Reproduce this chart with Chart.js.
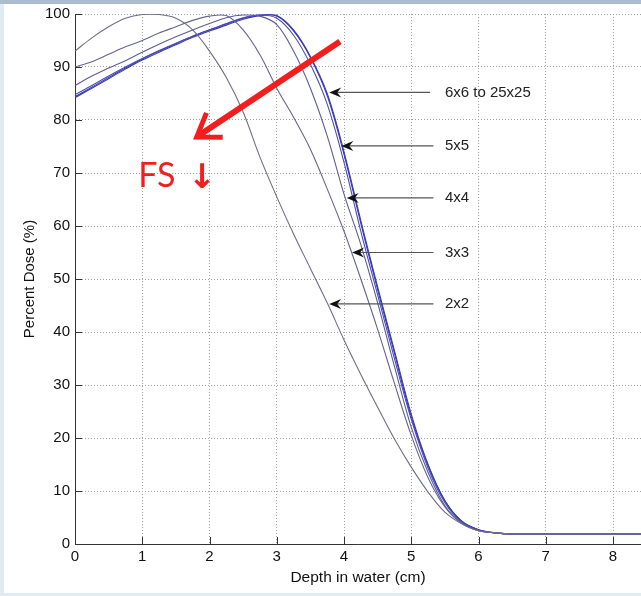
<!DOCTYPE html>
<html>
<head>
<meta charset="utf-8">
<script src="https://cdn.jsdelivr.net/npm/chart.js@4.4.0/dist/chart.umd.min.js"></script>
<style>
  html, body { margin: 0; padding: 0; background: #fff; }
  #wrap { position: relative; width: 641px; height: 596px; overflow: hidden; }
  #chart { position: absolute; left: 0; top: 0; }
  .edge { position: absolute; }
</style>
</head>
<body>
<div id="wrap">
  <canvas id="chart" width="641" height="596"></canvas>
  <div class="edge" style="left:0;top:0;width:641px;height:4px;background:#a9bdd1"></div>
  <div class="edge" style="left:0;top:4px;width:4px;height:592px;background:#dfeaf2"></div>
  <div class="edge" style="left:0;top:593px;width:641px;height:3px;background:#dfeaf2"></div>
</div>
<script>
// depth in water (cm)
const depth = [0, 0.25, 0.5, 0.75, 1, 1.25, 1.5, 1.75, 2, 2.25, 2.5, 2.75, 3, 3.25, 3.5, 3.75,
  4, 4.25, 4.5, 4.75, 5, 5.25, 5.5, 5.75, 6, 6.25, 6.5, 7, 7.5, 8, 8.5];

// percent dose per field size
const dose2x2 = [93, 95.5, 97.6, 99.2, 99.9, 99.9, 99.2, 97, 93, 88, 81.5, 73, 65.5, 58.5, 52, 45.5,
  38.5, 32, 25.8, 19.8, 14.5, 9.8, 6, 3.8, 2.5, 2.1, 1.9, 1.9, 1.9, 1.9, 1.9];
const dose3x3 = [90, 91, 92.4, 93.8, 95, 96.4, 97.6, 98.8, 99.6, 99.7, 97, 92.3, 86, 80.5, 74.5, 67,
  59, 50, 40.5, 30.3, 20.5, 12.5, 7, 3.9, 2.5, 2.1, 1.9, 1.9, 1.9, 1.9, 1.9];
const dose4x4 = [86.5, 88.3, 89.8, 91.2, 92.8, 94.3, 95.7, 97, 98.2, 99.3, 99.8, 99.6, 98, 93, 86, 77,
  66, 56.5, 45.5, 33.5, 22, 13.5, 7.2, 3.9, 2.5, 2.1, 1.9, 1.9, 1.9, 1.9, 1.9];
const dose5x5 = [84.8, 86.5, 88.3, 90, 91.6, 93.1, 94.5, 95.8, 97, 98.2, 99.3, 99.8, 99.2, 96, 90.5, 83,
  72, 59, 47, 35, 23.5, 14.3, 7.8, 4.1, 2.6, 2.1, 1.9, 1.9, 1.9, 1.9, 1.9];
const dose6x6 = [84.2, 86, 87.8, 89.6, 91.3, 92.8, 94.2, 95.6, 96.8, 97.9, 99, 99.7, 99.7, 97, 92, 85,
  74, 61, 48.5, 36.5, 24.5, 15, 8.2, 4.3, 2.7, 2.1, 1.9, 1.9, 1.9, 1.9, 1.9];
const dose25x25 = [84.4, 86.2, 88, 89.8, 91.5, 93, 94.4, 95.8, 97, 98.1, 99.2, 99.8, 99.6, 96.8, 91.8, 84.6,
  73.5, 60.5, 48, 36, 24, 14.8, 8.1, 4.3, 2.7, 2.1, 1.9, 1.9, 1.9, 1.9, 1.9];

const seriesNames = ["2x2", "3x3", "4x4", "5x5", "6x6", "25x25"];
const seriesValues = [dose2x2, dose3x3, dose4x4, dose5x5, dose6x6, dose25x25];
const seriesColors = ["#6e6e86", "#66668e", "#5c5c9c", "#4e4eac", "#3a3ab8", "#3434bc"];

// callout labels (data units: depth of arrow tip, depth of tail, dose level)
const calloutTexts = ["6x6 to 25x25", "5x5", "4x4", "3x3", "2x2"];
const calloutDose = [85.2, 75.1, 65.3, 55, 45.3];
const calloutTip = [3.78, 3.96, 4.04, 4.12, 3.78];
const calloutTail = [5.28, 5.33, 5.33, 5.33, 5.33];
const calloutTextX = 5.5;

// red "field size" arrow and note
const fsArrowFrom = [3.94, 94.8];
const fsArrowTo = [1.81, 76.8];
const fsText = "FS";
const fsTextPos = [0.94, 67.4];
const fsDownArrow = "↓";
const fsDownPos = [1.68, 67.2];

const datasets = seriesNames.map((name, i) => ({
  label: name,
  data: depth.map((d, j) => ({ x: d, y: seriesValues[i][j] })),
  borderColor: seriesColors[i],
  borderWidth: 1.1,
  pointRadius: 0,
  tension: 0.35,
  fill: false,
}));

function drawArrowHead(ctx, x, y) {
  ctx.beginPath();
  ctx.moveTo(x, y);
  ctx.lineTo(x + 12, y - 5);
  ctx.lineTo(x + 8, y);
  ctx.lineTo(x + 12, y + 5);
  ctx.closePath();
  ctx.fill();
}

const annotations = {
  id: "annotations",
  afterDatasetsDraw(chart) {
    const ctx = chart.ctx;
    const xs = chart.scales.x;
    const ys = chart.scales.y;
    const area = chart.chartArea;

    // inward tick marks, matlab style
    ctx.save();
    ctx.strokeStyle = "#333";
    ctx.lineWidth = 1;
    ctx.beginPath();
    xs.ticks.forEach((t) => {
      const px = Math.round(xs.getPixelForValue(t.value)) + 0.5;
      ctx.moveTo(px, area.bottom);
      ctx.lineTo(px, area.bottom - 7);
    });
    ys.ticks.forEach((t) => {
      const py = Math.round(ys.getPixelForValue(t.value)) + 0.5;
      ctx.moveTo(area.left, py);
      ctx.lineTo(area.left + 7, py);
    });
    ctx.stroke();
    ctx.restore();

    // callout arrows with labels
    ctx.save();
    ctx.font = "15px 'Liberation Sans', Arial, sans-serif";
    ctx.textBaseline = "middle";
    calloutTexts.forEach((txt, i) => {
      const py = ys.getPixelForValue(calloutDose[i]);
      const tip = xs.getPixelForValue(calloutTip[i]);
      const tail = xs.getPixelForValue(calloutTail[i]);
      ctx.strokeStyle = "#555";
      ctx.lineWidth = 1.2;
      ctx.beginPath();
      ctx.moveTo(tip + 8, py);
      ctx.lineTo(tail, py);
      ctx.stroke();
      ctx.fillStyle = "#111";
      drawArrowHead(ctx, tip, py);
      ctx.fillStyle = "#222";
      ctx.fillText(txt, xs.getPixelForValue(calloutTextX), py);
    });
    ctx.restore();

    // red arrow
    const x0 = xs.getPixelForValue(fsArrowFrom[0]);
    const y0 = ys.getPixelForValue(fsArrowFrom[1]);
    const x1 = xs.getPixelForValue(fsArrowTo[0]);
    const y1 = ys.getPixelForValue(fsArrowTo[1]);
    const ang = Math.atan2(y0 - y1, x0 - x1);
    ctx.save();
    ctx.strokeStyle = "#f41d1d";
    ctx.lineWidth = 6;
    ctx.lineCap = "butt";
    ctx.beginPath();
    ctx.moveTo(x0, y0);
    ctx.lineTo(x1 + 3 * Math.cos(ang), y1 + 3 * Math.sin(ang));
    ctx.stroke();
    ctx.lineWidth = 5;
    ctx.lineJoin = "miter";
    ctx.beginPath();
    ctx.moveTo(x1 + 26 * Math.cos(ang - 0.6), y1 + 26 * Math.sin(ang - 0.6));
    ctx.lineTo(x1, y1);
    ctx.lineTo(x1 + 26 * Math.cos(ang + 0.6), y1 + 26 * Math.sin(ang + 0.6));
    ctx.stroke();

    // FS note
    ctx.fillStyle = "#f41d1d";
    ctx.textBaseline = "alphabetic";
    ctx.font = "34px Lato, 'Open Sans', sans-serif";
    ctx.fillText(fsText, xs.getPixelForValue(fsTextPos[0]), ys.getPixelForValue(fsTextPos[1]));
    ctx.font = "bold 34px 'DejaVu Sans', sans-serif";
    ctx.fillText(fsDownArrow, xs.getPixelForValue(fsDownPos[0]), ys.getPixelForValue(fsDownPos[1]));
    ctx.restore();
  },
};

const tickFont = { family: "'Liberation Sans', Arial, sans-serif", size: 15 };
const titleFont = { family: "'Liberation Sans', Arial, sans-serif", size: 15 };

new Chart(document.getElementById("chart"), {
  type: "line",
  data: { datasets: datasets },
  options: {
    responsive: false,
    animation: false,
    layout: { padding: { top: 14, left: 0, right: 0, bottom: 0 } },
    plugins: { legend: { display: false }, tooltip: { enabled: false } },
    scales: {
      x: {
        type: "linear",
        min: 0,
        max: 8.416,
        ticks: { stepSize: 1, includeBounds: false, color: "#111", font: tickFont, padding: 4, maxRotation: 0 },
        grid: { color: "#a0a0a0", lineWidth: 1, drawTicks: false },
        border: { color: "#333", width: 1, dash: [1, 2] },
        title: { display: true, text: "Depth in water (cm)", color: "#111", font: { ...titleFont, size: 15.5 }, padding: { top: 0, bottom: 9 } },
        afterFit(scale) { scale.height = 52; },
      },
      y: {
        min: 0,
        max: 100,
        ticks: { stepSize: 10, color: "#111", font: tickFont, padding: 5 },
        grid: { color: "#a0a0a0", lineWidth: 1, drawTicks: false },
        border: { color: "#333", width: 1, dash: [1, 2] },
        title: { display: true, text: "Percent Dose (%)", color: "#111", font: titleFont, padding: { top: 21, bottom: 0 } },
        afterFit(scale) { scale.width = 75; },
      },
    },
  },
  plugins: [annotations],
});
</script>
</body>
</html>
